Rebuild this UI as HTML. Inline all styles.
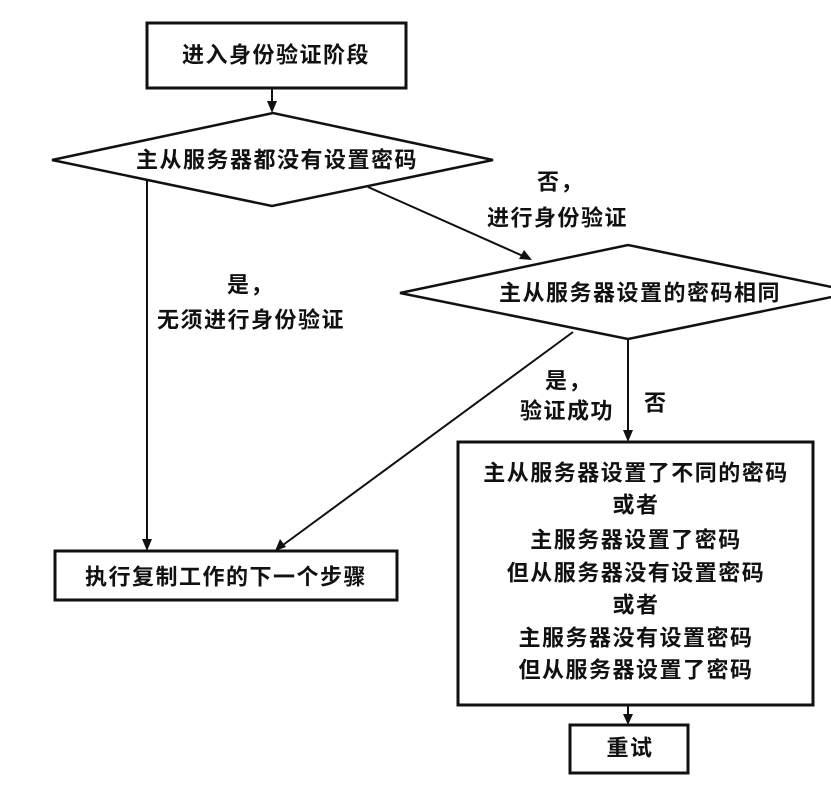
<!DOCTYPE html>
<html><head><meta charset="utf-8"><style>
html,body{margin:0;padding:0;background:#fff;}
svg{display:block;}
text{font-family:"Liberation Sans","Noto Sans CJK SC",sans-serif;font-weight:700;font-size:22px;fill:#111;letter-spacing:1.5px;}
</style></head><body>
<svg width="831" height="791" viewBox="0 0 831 791" xmlns="http://www.w3.org/2000/svg">
<g fill="none" stroke="#111" stroke-width="3">
<rect x="147" y="23" width="259" height="65"/>
<polygon points="52,160 273,113 493,160 272,206" stroke-width="2.5"/>
<polygon points="400,293 628,245 856,292 628,339" stroke-width="2.5"/>
<rect x="458" y="442" width="355" height="263"/>
<rect x="570" y="725" width="118" height="48"/>
<rect x="55" y="551" width="342" height="49"/>
</g>
<g stroke="#111" stroke-width="2">
<line x1="272" y1="88" x2="272" y2="104"/>
<line x1="147" y1="180" x2="147" y2="541"/>
<line x1="368" y1="187" x2="523" y2="256"/>
<line x1="628" y1="339" x2="628" y2="432"/>
<line x1="573" y1="332" x2="283" y2="545"/>
<line x1="628" y1="705" x2="628" y2="716"/>
</g>
<g fill="#111">
<polygon points="272,113 267,101 277,101"/>
<polygon points="147,551 142,539 152,539"/>
<polygon points="532,260 519,259 524,250"/>
<polygon points="628,442 623,430 633,430"/>
<polygon points="275,551 280,539 286,547"/>
<polygon points="628,725 623,714 633,714"/>
</g>
<g dominant-baseline="central">
<text x="276" y="55" text-anchor="middle">进入身份验证阶段</text>
<text x="277" y="160" text-anchor="middle">主从服务器都没有设置密码</text>
<text x="640" y="293" text-anchor="middle">主从服务器设置的密码相同</text>
<text x="226" y="577" text-anchor="middle">执行复制工作的下一个步骤</text>
<text x="630" y="748" text-anchor="middle">重试</text>
<text x="636" y="473" text-anchor="middle">主从服务器设置了不同的密码</text>
<text x="636" y="505" text-anchor="middle">或者</text>
<text x="636" y="540" text-anchor="middle">主服务器设置了密码</text>
<text x="636" y="573" text-anchor="middle">但从服务器没有设置密码</text>
<text x="636" y="605" text-anchor="middle">或者</text>
<text x="636" y="638" text-anchor="middle">主服务器没有设置密码</text>
<text x="636" y="670" text-anchor="middle">但从服务器设置了密码</text>
<text x="537" y="182">否，</text>
<text x="487" y="218">进行身份验证</text>
<text x="227" y="285">是，</text>
<text x="157" y="320">无须进行身份验证</text>
<text x="545" y="381">是，</text>
<text x="520" y="411">验证成功</text>
<text x="644" y="403">否</text>
</g>
</svg>
</body></html>
